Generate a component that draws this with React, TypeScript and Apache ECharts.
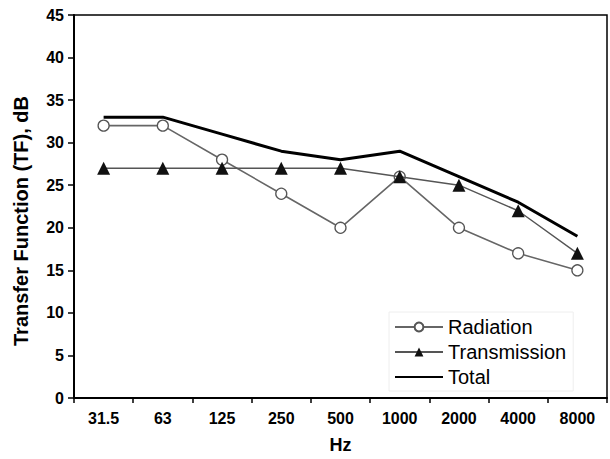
import React, { useEffect, useRef } from "react";
import * as echarts from "echarts";

const categories = ["31.5", "63", "125", "250", "500", "1000", "2000", "4000", "8000"];
const radiation = [32, 32, 28, 24, 20, 26, 20, 17, 15];
const transmission = [27, 27, 27, 27, 27, 26, 25, 22, 17];
const total = [33, 33, 31, 29, 28, 29, 26, 23, 19];

const FONT = "Liberation Sans, Arial, sans-serif";

export default function App() {
  const ref = useRef<HTMLDivElement>(null);
  useEffect(() => {
    if (!ref.current) return;
    const chart = echarts.init(ref.current, null, { renderer: "svg" });
    chart.setOption({
      animation: false,
      backgroundColor: "#fff",
      grid: {
        left: 74,
        top: 15,
        right: 3,
        bottom: 58,
        show: true,
        borderColor: "#000",
        borderWidth: 1.5,
        backgroundColor: "transparent",
      },
      graphic: [
        {
          type: "text",
          x: 21,
          y: 221,
          rotation: Math.PI / 2,
          style: {
            text: "Transfer Function (TF), dB",
            fontFamily: FONT,
            fontSize: 20,
            fontWeight: "bold",
            fill: "#000",
            align: "center",
            verticalAlign: "middle",
          },
        },
      ],
      legend: {
        orient: "vertical",
        left: 389,
        top: 312,
        itemWidth: 48,
        itemHeight: 11,
        itemGap: 5,
        padding: [5, 7, 4, 5],
        borderColor: "#eeeeee",
        borderWidth: 1,
        textStyle: { fontFamily: FONT, fontSize: 20, color: "#000" },
        data: [
          { name: "Radiation" },
          { name: "Transmission" },
          { name: "Total", itemStyle: { opacity: 0 } },
        ],
      },
      xAxis: [
        {
          type: "category",
          data: categories,
          position: "bottom",
          boundaryGap: true,
          name: "Hz",
          nameLocation: "middle",
          nameGap: 38,
          nameTextStyle: { fontFamily: FONT, fontSize: 18, fontWeight: "bold", color: "#000" },
          axisLine: { lineStyle: { color: "#000", width: 2 } },
          axisTick: { alignWithLabel: true, length: 8, lineStyle: { color: "#000", width: 1.5 } },
          axisLabel: { fontFamily: FONT, fontSize: 16, fontWeight: "bold", color: "#000", margin: 12 },
          splitLine: { show: false },
        },
        {
          type: "category",
          data: categories,
          position: "bottom",
          boundaryGap: true,
          axisLine: { show: false },
          axisTick: { show: true, length: 5, lineStyle: { color: "#000", width: 1.5 } },
          axisLabel: { show: false },
          splitLine: { show: false },
        },
      ],
      yAxis: {
        type: "value",
        min: 0,
        max: 45,
        interval: 5,
        axisLine: { show: true, lineStyle: { color: "#000", width: 2 } },
        axisTick: { show: true, length: 6, lineStyle: { color: "#000", width: 1.5 } },
        axisLabel: { fontFamily: FONT, fontSize: 16, fontWeight: "bold", color: "#000", margin: 10 },
        splitLine: { show: false },
      },
      series: [
        {
          name: "Radiation",
          type: "line",
          data: radiation,
          symbol: "circle",
          symbolSize: 11,
          lineStyle: { color: "#666", width: 1.6 },
          itemStyle: { color: "#fff", borderColor: "#555", borderWidth: 1.3 },
          z: 3,
        },
        {
          name: "Transmission",
          type: "line",
          data: transmission,
          symbol: "triangle",
          symbolSize: 13,
          lineStyle: { color: "#555", width: 1.4 },
          itemStyle: { color: "#111", borderColor: "#111", borderWidth: 0 },
          z: 4,
        },
        {
          name: "Total",
          type: "line",
          data: total,
          showSymbol: false,
          symbol: "none",
          lineStyle: { color: "#000", width: 3 },
          itemStyle: { color: "#000" },
          z: 2,
        },
      ],
    });
    return () => chart.dispose();
  }, []);
  return (
    <div
      ref={ref}
      style={{ position: "fixed", left: 0, top: 0, width: 610, height: 459, background: "#fff" }}
    />
  );
}
